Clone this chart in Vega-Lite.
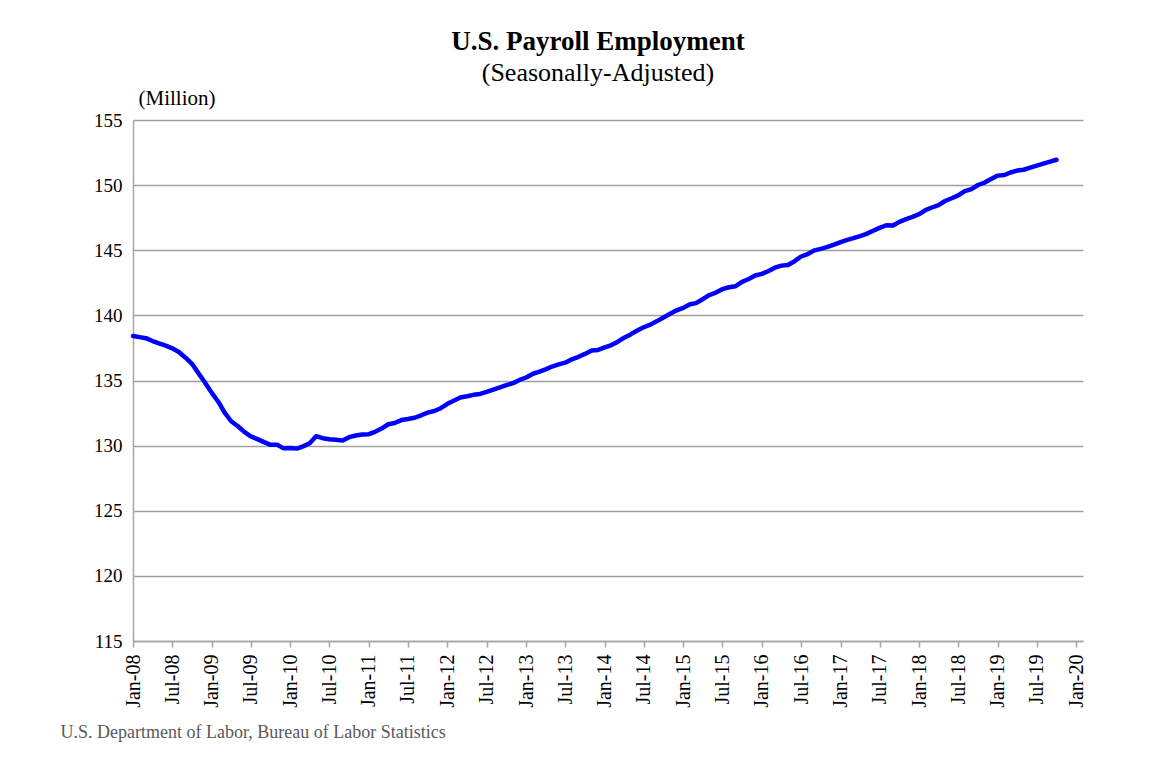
{
  "$schema": "https://vega.github.io/schema/vega-lite/v6.json",
  "autosize": {"type": "none"},
  "padding": {"left": 133, "top": 120, "right": 67, "bottom": 118},
  "width": 950,
  "height": 521,
  "background": "white",
  "title": {
    "text": "U.S. Payroll Employment",
    "subtitle": "(Seasonally-Adjusted)",
    "font": "Liberation Serif",
    "fontSize": 27,
    "fontWeight": "bold",
    "color": "black",
    "subtitleFont": "Liberation Serif",
    "subtitleFontSize": 26,
    "subtitleColor": "black",
    "subtitlePadding": 4,
    "anchor": "middle",
    "frame": "group",
    "dx": -10,
    "offset": 0
  },
  "config": {"view": {"stroke": null}},
  "data": {
    "values": [
      {"date": "2008-01-01", "value": 138.41}, {"date": "2008-02-01", "value": 138.33}, {"date": "2008-03-01", "value": 138.25}, {"date": "2008-04-01", "value": 138.03}, {"date": "2008-05-01", "value": 137.85}, {"date": "2008-06-01", "value": 137.68}, {"date": "2008-07-01", "value": 137.47}, {"date": "2008-08-01", "value": 137.19}, {"date": "2008-09-01", "value": 136.75}, {"date": "2008-10-01", "value": 136.28}, {"date": "2008-11-01", "value": 135.53}, {"date": "2008-12-01", "value": 134.83},
      {"date": "2009-01-01", "value": 134.05}, {"date": "2009-02-01", "value": 133.35}, {"date": "2009-03-01", "value": 132.55}, {"date": "2009-04-01", "value": 131.87}, {"date": "2009-05-01", "value": 131.51}, {"date": "2009-06-01", "value": 131.05}, {"date": "2009-07-01", "value": 130.71}, {"date": "2009-08-01", "value": 130.5}, {"date": "2009-09-01", "value": 130.27}, {"date": "2009-10-01", "value": 130.06}, {"date": "2009-11-01", "value": 130.06}, {"date": "2009-12-01", "value": 129.79},
      {"date": "2010-01-01", "value": 129.82}, {"date": "2010-02-01", "value": 129.77}, {"date": "2010-03-01", "value": 129.94}, {"date": "2010-04-01", "value": 130.18}, {"date": "2010-05-01", "value": 130.72}, {"date": "2010-06-01", "value": 130.57}, {"date": "2010-07-01", "value": 130.49}, {"date": "2010-08-01", "value": 130.45}, {"date": "2010-09-01", "value": 130.39}, {"date": "2010-10-01", "value": 130.65}, {"date": "2010-11-01", "value": 130.78}, {"date": "2010-12-01", "value": 130.85},
      {"date": "2011-01-01", "value": 130.88}, {"date": "2011-02-01", "value": 131.08}, {"date": "2011-03-01", "value": 131.31}, {"date": "2011-04-01", "value": 131.64}, {"date": "2011-05-01", "value": 131.74}, {"date": "2011-06-01", "value": 131.96}, {"date": "2011-07-01", "value": 132.04}, {"date": "2011-08-01", "value": 132.14}, {"date": "2011-09-01", "value": 132.33}, {"date": "2011-10-01", "value": 132.53}, {"date": "2011-11-01", "value": 132.66}, {"date": "2011-12-01", "value": 132.87},
      {"date": "2012-01-01", "value": 133.21}, {"date": "2012-02-01", "value": 133.47}, {"date": "2012-03-01", "value": 133.7}, {"date": "2012-04-01", "value": 133.79}, {"date": "2012-05-01", "value": 133.9}, {"date": "2012-06-01", "value": 133.97}, {"date": "2012-07-01", "value": 134.13}, {"date": "2012-08-01", "value": 134.3}, {"date": "2012-09-01", "value": 134.47}, {"date": "2012-10-01", "value": 134.64}, {"date": "2012-11-01", "value": 134.8}, {"date": "2012-12-01", "value": 135.04},
      {"date": "2013-01-01", "value": 135.23}, {"date": "2013-02-01", "value": 135.52}, {"date": "2013-03-01", "value": 135.66}, {"date": "2013-04-01", "value": 135.85}, {"date": "2013-05-01", "value": 136.07}, {"date": "2013-06-01", "value": 136.24}, {"date": "2013-07-01", "value": 136.37}, {"date": "2013-08-01", "value": 136.63}, {"date": "2013-09-01", "value": 136.82}, {"date": "2013-10-01", "value": 137.04}, {"date": "2013-11-01", "value": 137.3}, {"date": "2013-12-01", "value": 137.35},
      {"date": "2014-01-01", "value": 137.55}, {"date": "2014-02-01", "value": 137.72}, {"date": "2014-03-01", "value": 137.96}, {"date": "2014-04-01", "value": 138.29}, {"date": "2014-05-01", "value": 138.54}, {"date": "2014-06-01", "value": 138.84}, {"date": "2014-07-01", "value": 139.09}, {"date": "2014-08-01", "value": 139.29}, {"date": "2014-09-01", "value": 139.56}, {"date": "2014-10-01", "value": 139.84}, {"date": "2014-11-01", "value": 140.13}, {"date": "2014-12-01", "value": 140.39},
      {"date": "2015-01-01", "value": 140.58}, {"date": "2015-02-01", "value": 140.85}, {"date": "2015-03-01", "value": 140.94}, {"date": "2015-04-01", "value": 141.24}, {"date": "2015-05-01", "value": 141.56}, {"date": "2015-06-01", "value": 141.75}, {"date": "2015-07-01", "value": 142.01}, {"date": "2015-08-01", "value": 142.16}, {"date": "2015-09-01", "value": 142.24}, {"date": "2015-10-01", "value": 142.57}, {"date": "2015-11-01", "value": 142.79}, {"date": "2015-12-01", "value": 143.06},
      {"date": "2016-01-01", "value": 143.19}, {"date": "2016-02-01", "value": 143.41}, {"date": "2016-03-01", "value": 143.66}, {"date": "2016-04-01", "value": 143.82}, {"date": "2016-05-01", "value": 143.87}, {"date": "2016-06-01", "value": 144.16}, {"date": "2016-07-01", "value": 144.52}, {"date": "2016-08-01", "value": 144.71}, {"date": "2016-09-01", "value": 144.99}, {"date": "2016-10-01", "value": 145.11}, {"date": "2016-11-01", "value": 145.26}, {"date": "2016-12-01", "value": 145.43},
      {"date": "2017-01-01", "value": 145.63}, {"date": "2017-02-01", "value": 145.8}, {"date": "2017-03-01", "value": 145.93}, {"date": "2017-04-01", "value": 146.09}, {"date": "2017-05-01", "value": 146.26}, {"date": "2017-06-01", "value": 146.5}, {"date": "2017-07-01", "value": 146.72}, {"date": "2017-08-01", "value": 146.92}, {"date": "2017-09-01", "value": 146.9}, {"date": "2017-10-01", "value": 147.18}, {"date": "2017-11-01", "value": 147.39}, {"date": "2017-12-01", "value": 147.56},
      {"date": "2018-01-01", "value": 147.77}, {"date": "2018-02-01", "value": 148.1}, {"date": "2018-03-01", "value": 148.28}, {"date": "2018-04-01", "value": 148.47}, {"date": "2018-05-01", "value": 148.78}, {"date": "2018-06-01", "value": 148.99}, {"date": "2018-07-01", "value": 149.21}, {"date": "2018-08-01", "value": 149.54}, {"date": "2018-09-01", "value": 149.7}, {"date": "2018-10-01", "value": 150.01}, {"date": "2018-11-01", "value": 150.2}, {"date": "2018-12-01", "value": 150.47},
      {"date": "2019-01-01", "value": 150.73}, {"date": "2019-02-01", "value": 150.78}, {"date": "2019-03-01", "value": 150.97}, {"date": "2019-04-01", "value": 151.12}, {"date": "2019-05-01", "value": 151.18}, {"date": "2019-06-01", "value": 151.34}, {"date": "2019-07-01", "value": 151.5}, {"date": "2019-08-01", "value": 151.65}, {"date": "2019-09-01", "value": 151.8}, {"date": "2019-10-01", "value": 151.95}
    ]
  },
  "mark": {"type": "line", "color": "#0000ff", "strokeWidth": 4.5, "strokeCap": "round", "strokeJoin": "round"},
  "encoding": {
    "x": {
      "field": "date",
      "type": "temporal",
      "scale": {
        "type": "utc",
        "domain": [{"year": 2008, "month": 1, "date": 1, "utc": true}, {"year": 2020, "month": 2, "date": 1, "utc": true}],
        "nice": false
      },
      "axis": {
        "title": "U.S. Department of Labor, Bureau of Labor Statistics",
        "titleFont": "Liberation Serif",
        "titleFontSize": 18,
        "titleFontWeight": "normal",
        "titleColor": "#595959",
        "titleAnchor": "start",
        "titleAlign": "left",
        "titleBaseline": "alphabetic",
        "titleX": -73,
        "titleY": 96,
        "tickCount": {"interval": "month", "step": 6},
        "format": "%b-%y",
        "labelAngle": 270,
        "labelAlign": "right",
        "labelBaseline": "middle",
        "labelFont": "Liberation Serif",
        "labelFontSize": 20,
        "labelColor": "black",
        "labelPadding": 7,
        "labelOverlap": false,
        "labelFlush": false,
        "labelBound": false,
        "grid": false,
        "tickSize": 6,
        "tickColor": "#a6a6a6",
        "tickWidth": 1.5,
        "domainColor": "#a6a6a6",
        "domainWidth": 1.5
      }
    },
    "y": {
      "field": "value",
      "type": "quantitative",
      "scale": {"domain": [115, 155], "nice": false, "zero": false},
      "axis": {
        "title": "(Million)",
        "titleAngle": 0,
        "titleAlign": "left",
        "titleBaseline": "middle",
        "titleX": 5,
        "titleY": -22,
        "titleFont": "Liberation Serif",
        "titleFontSize": 21,
        "titleFontWeight": "normal",
        "titleColor": "black",
        "values": [115, 120, 125, 130, 135, 140, 145, 150, 155],
        "labelFont": "Liberation Serif",
        "labelFontSize": 19,
        "labelColor": "black",
        "labelPadding": 11,
        "ticks": false,
        "tickSize": 0,
        "domainColor": "#a6a6a6",
        "domainWidth": 1.5,
        "gridColor": "#a0a0a0",
        "gridWidth": 1.3
      }
    }
  }
}
